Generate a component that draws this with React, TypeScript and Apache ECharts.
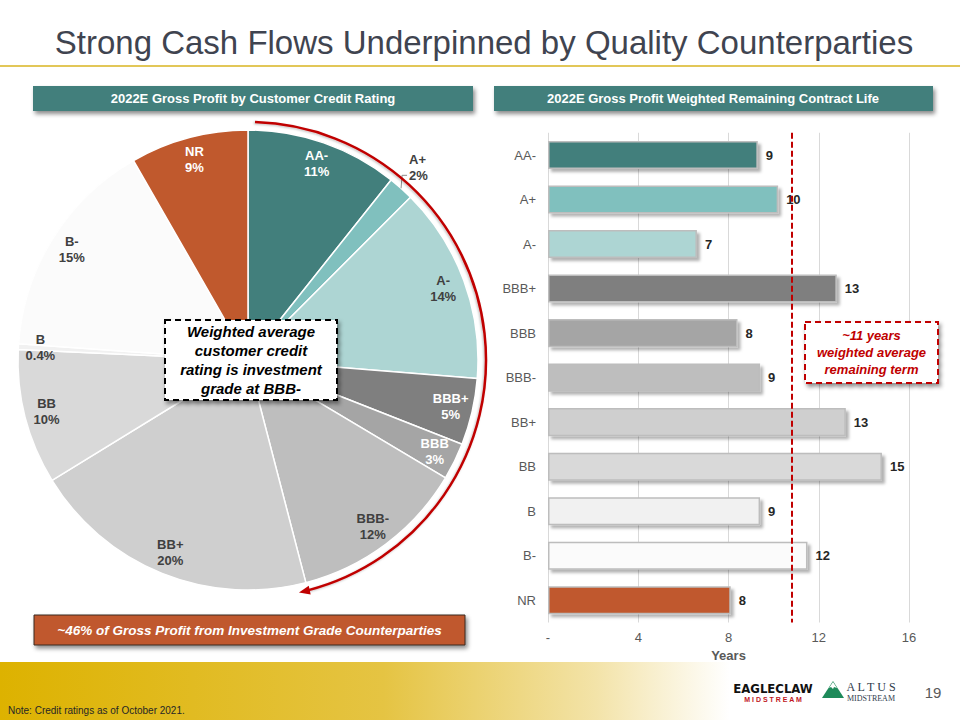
import React, { useEffect, useRef } from "react";
import * as echarts from "echarts";

// ---------- DATA ----------
const pieNames = ["AA-", "A+", "A-", "BBB+", "BBB", "BBB-", "BB+", "BB", "B", "B-", "NR"];
const pieValues = [10.7, 1.8, 13.8, 4.7, 2.6, 12.4, 20.3, 9.5, 0.4, 15.6, 8.3];
const pieLabels = ["11%", "2%", "14%", "5%", "3%", "12%", "20%", "10%", "0.4%", "15%", "9%"];

const barCategories = ["AA-", "A+", "A-", "BBB+", "BBB", "BBB-", "BB+", "BB", "B", "B-", "NR"];
const barValues = [9.3, 10.2, 6.6, 12.8, 8.4, 9.4, 13.2, 14.8, 9.4, 11.5, 8.1];
const barLabels = ["9", "10", "7", "13", "8", "9", "13", "15", "9", "12", "8"];
const xTickLabels = ["-", "4", "8", "12", "16"];
const averageLife = 10.8;

// ---------- STYLES ----------
const ratingColors: Record<string, string> = {
  "AA-": "#427F7C",
  "A+": "#80C0BE",
  "A-": "#ADD5D3",
  "BBB+": "#7F7F7F",
  BBB: "#A5A5A5",
  "BBB-": "#BEBEBE",
  "BB+": "#CFCFCF",
  BB: "#D9D9D9",
  B: "#F1F1F1",
  "B-": "#FBFBFB",
  NR: "#C0592D",
};
const whiteLabel = new Set(["AA-", "NR", "BBB+", "BBB"]);
const FONT = "Arial, 'Liberation Sans', sans-serif";
const TEAL = "#427F7C";
const RED = "#C00000";

const PIE_CX = 248;
const PIE_CY = 360;
const PIE_R = 230;

function buildOption() {
  const pieData = pieNames.map((n, i) => ({
    name: n,
    value: pieValues[i],
    itemStyle: { color: ratingColors[n] },
  }));

  const labelData = pieNames.map((n, i) => {
    const item: any = {
      name: n,
      value: pieValues[i],
      label: {
        color: whiteLabel.has(n) ? "#FFFFFF" : "#404040",
      },
    };
    if (n === "A+") {
      item.label.position = "outside";
      item.labelLine = { show: true, length: 8, length2: 5, lineStyle: { color: "#8C8C8C", width: 1 } };
    }
    return item;
  });

  // red arc with arrow
  const arcR = 238;
  const startA = Math.atan2(123 - PIE_CY, 255 - PIE_CX);
  const tipA = 1.355;
  const tip = [PIE_CX + arcR * Math.cos(tipA), PIE_CY + arcR * Math.sin(tipA)];
  const d = [-Math.sin(tipA), Math.cos(tipA)];
  const nrm = [Math.cos(tipA), Math.sin(tipA)];
  const base = [tip[0] - 11 * d[0], tip[1] - 11 * d[1]];
  const arrowPts = [
    tip,
    [base[0] + 4.5 * nrm[0], base[1] + 4.5 * nrm[1]],
    [base[0] - 4.5 * nrm[0], base[1] - 4.5 * nrm[1]],
  ];

  const shadow = { shadowBlur: 4, shadowOffsetX: 2, shadowOffsetY: 3, shadowColor: "rgba(0,0,0,0.45)" };

  return {
    animation: false,
    backgroundColor: "#FFFFFF",
    grid: { left: 548, right: 51, top: 132.75, bottom: 97.5, containLabel: false },
    xAxis: {
      type: "value",
      min: 0,
      max: 16,
      interval: 4,
      name: "Years",
      nameLocation: "middle",
      nameGap: 26,
      nameTextStyle: { color: "#595959", fontSize: 13, fontWeight: "bold", fontFamily: FONT },
      axisLine: { show: false },
      axisTick: { show: false },
      axisLabel: {
        color: "#595959",
        fontSize: 13,
        fontFamily: FONT,
        margin: 8,
        formatter: (v: number) => xTickLabels[Math.round(v / 4)] ?? String(v),
      },
      splitLine: { show: true, lineStyle: { color: "#D9D9D9", width: 1 } },
    },
    yAxis: {
      type: "category",
      data: barCategories,
      inverse: true,
      axisLine: { show: false },
      axisTick: { show: false },
      axisLabel: { color: "#595959", fontSize: 13, fontFamily: FONT, margin: 12 },
    },
    series: [
      {
        type: "pie",
        center: [PIE_CX, PIE_CY],
        radius: [0, PIE_R],
        startAngle: 90,
        clockwise: true,
        silent: true,
        label: { show: false },
        labelLine: { show: false },
        itemStyle: { borderColor: "#FFFFFF", borderWidth: 1.5 },
        data: pieData,
        z: 2,
      },
      {
        type: "pie",
        center: [PIE_CX, PIE_CY],
        radius: [180, PIE_R],
        startAngle: 90,
        clockwise: true,
        silent: true,
        itemStyle: { color: "rgba(0,0,0,0)", borderWidth: 0 },
        label: {
          show: true,
          position: "inside",
          fontSize: 13,
          fontWeight: "bold",
          fontFamily: FONT,
          lineHeight: 16,
          formatter: (p: any) => `${p.name}\n${pieLabels[p.dataIndex]}`,
        },
        labelLine: { show: false },
        labelLayout: (params: any) => {
          if (params.dataIndex !== 1 || !params.labelLinePoints) return {};
          const p0 = params.labelLinePoints[0];
          const bend = [p0[0] + 1, p0[1] - 13];
          const end = [bend[0] + 5, bend[1]];
          return {
            x: end[0] + 2,
            y: end[1] - 8,
            align: "left",
            verticalAlign: "middle",
            labelLinePoints: [p0, bend, end],
          };
        },
        data: labelData,
        z: 3,
      },
      {
        type: "bar",
        barWidth: "63%",
        data: barValues.map((v, i) => ({
          value: v,
          itemStyle: { color: ratingColors[barCategories[i]] },
        })),
        itemStyle: {
          borderColor: "#BDBDBD",
          borderWidth: 1.5,
          shadowBlur: 3,
          shadowOffsetX: 3,
          shadowOffsetY: 3,
          shadowColor: "rgba(0,0,0,0.3)",
        },
        label: {
          show: true,
          position: "right",
          distance: 8,
          color: "#262626",
          fontSize: 13,
          fontWeight: "bold",
          fontFamily: FONT,
          formatter: (p: any) => barLabels[p.dataIndex],
        },
        markLine: {
          silent: true,
          symbol: "none",
          label: { show: false },
          lineStyle: { color: RED, width: 2, type: [6, 3] },
          data: [{ xAxis: averageLife }],
        },
      },
    ],
    graphic: [
      // footer band
      {
        type: "rect",
        z: -10,
        shape: { x: 0, y: 662, width: 960, height: 58 },
        style: {
          fill: new echarts.graphic.LinearGradient(0, 0, 1, 0, [
            { offset: 0, color: "#DDB200" },
            { offset: 0.4, color: "#E5C443" },
            { offset: 0.62, color: "#F3E3A8" },
            { offset: 0.76, color: "#FFFFFF" },
            { offset: 1, color: "#FFFFFF" },
          ]),
        },
      },
      // title
      {
        type: "text",
        x: 484,
        y: 42,
        style: {
          text: "Strong Cash Flows Underpinned by Quality Counterparties",
          fill: "#3F4450",
          fontSize: 33,
          fontFamily: FONT,
          textAlign: "center",
          textVerticalAlign: "middle",
        },
      },
      {
        type: "line",
        shape: { x1: 0, y1: 66, x2: 960, y2: 66 },
        style: { stroke: "#D8B520", lineWidth: 1.5 },
      },
      // section banners
      {
        type: "rect",
        shape: { x: 33, y: 86, width: 440, height: 25 },
        style: { fill: TEAL, ...shadow },
      },
      {
        type: "text",
        x: 253,
        y: 98.5,
        style: {
          text: "2022E Gross Profit by Customer Credit Rating",
          fill: "#FFFFFF",
          fontSize: 13,
          fontWeight: "bold",
          fontFamily: FONT,
          textAlign: "center",
          textVerticalAlign: "middle",
        },
      },
      {
        type: "rect",
        shape: { x: 494, y: 86, width: 439, height: 25 },
        style: { fill: TEAL, ...shadow },
      },
      {
        type: "text",
        x: 713,
        y: 98.5,
        style: {
          text: "2022E Gross Profit Weighted Remaining Contract Life",
          fill: "#FFFFFF",
          fontSize: 13,
          fontWeight: "bold",
          fontFamily: FONT,
          textAlign: "center",
          textVerticalAlign: "middle",
        },
      },
      // red arc + arrow
      {
        type: "arc",
        z: 50,
        shape: { cx: PIE_CX, cy: PIE_CY, r: arcR, startAngle: startA, endAngle: tipA - 9 / arcR, clockwise: true },
        style: { stroke: RED, lineWidth: 2.5, fill: null, shadowBlur: 2, shadowOffsetX: -1, shadowOffsetY: 1, shadowColor: "rgba(0,0,0,0.25)" },
      },
      {
        type: "polygon",
        z: 50,
        shape: { points: arrowPts },
        style: { fill: RED },
      },
      // weighted average box
      {
        type: "rect",
        z: 60,
        shape: { x: 165, y: 320, width: 172, height: 80 },
        style: { fill: "#FFFFFF", stroke: "#000000", lineWidth: 2, lineDash: [6, 4], ...shadow },
      },
      {
        type: "text",
        z: 61,
        x: 251,
        y: 360,
        style: {
          text: "Weighted average\ncustomer credit\nrating is investment\ngrade at BBB-",
          fill: "#000000",
          fontSize: 15,
          fontWeight: "bold",
          fontStyle: "italic",
          fontFamily: FONT,
          lineHeight: 19,
          textAlign: "center",
          textVerticalAlign: "middle",
        },
      },
      // orange banner
      {
        type: "rect",
        z: 60,
        shape: { x: 34, y: 615, width: 431, height: 30 },
        style: { fill: "#C0592D", stroke: "#3A2A20", lineWidth: 1, ...shadow },
      },
      {
        type: "text",
        z: 61,
        x: 249.5,
        y: 630,
        style: {
          text: "~46% of Gross Profit from Investment Grade Counterparties",
          fill: "#FFFFFF",
          fontSize: 13.5,
          fontWeight: "bold",
          fontStyle: "italic",
          fontFamily: FONT,
          textAlign: "center",
          textVerticalAlign: "middle",
        },
      },
      // red dashed annotation box
      {
        type: "rect",
        z: 60,
        shape: { x: 805, y: 322, width: 133, height: 61 },
        style: { fill: "#FFFFFF", stroke: RED, lineWidth: 2, lineDash: [6, 4], ...shadow },
      },
      {
        type: "text",
        z: 61,
        x: 871.5,
        y: 352.5,
        style: {
          text: "~11 years\nweighted average\nremaining term",
          fill: RED,
          fontSize: 13,
          fontWeight: "bold",
          fontStyle: "italic",
          fontFamily: FONT,
          lineHeight: 17,
          textAlign: "center",
          textVerticalAlign: "middle",
        },
      },
      // footer texts
      {
        type: "text",
        x: 8,
        y: 710,
        style: {
          text: "Note: Credit ratings as of October 2021.",
          fill: "#262626",
          fontSize: 10,
          fontFamily: FONT,
          textAlign: "left",
          textVerticalAlign: "middle",
        },
      },
      {
        type: "text",
        x: 933,
        y: 692,
        style: {
          text: "19",
          fill: "#595959",
          fontSize: 15,
          fontFamily: FONT,
          textAlign: "center",
          textVerticalAlign: "middle",
        },
      },
      // logos
      {
        type: "text",
        x: 773,
        y: 688,
        style: {
          text: "EAGLECLAW",
          fill: "#111111",
          fontSize: 13,
          fontWeight: "bold",
          fontFamily: "'Liberation Sans Narrow', 'Arial Narrow', 'DejaVu Sans Condensed', sans-serif",
          textAlign: "center",
          textVerticalAlign: "middle",
        },
      },
      {
        type: "text",
        x: 773,
        y: 699.5,
        style: {
          text: "M I D S T R E A M",
          fill: "#C0171E",
          fontSize: 7,
          fontWeight: "bold",
          fontFamily: FONT,
          textAlign: "center",
          textVerticalAlign: "middle",
        },
      },
      {
        type: "polygon",
        shape: { points: [[822, 698], [833, 681], [844, 698]] },
        style: { fill: "#1E8A5A" },
      },
      {
        type: "polygon",
        shape: { points: [[829, 688], [833, 682], [837, 688], [834, 687], [833, 689], [831, 687]] },
        style: { fill: "#FFFFFF" },
      },
      {
        type: "text",
        x: 871,
        y: 687,
        style: {
          text: "A L T U S",
          fill: "#2F3B4B",
          fontSize: 12,
          fontFamily: "'Liberation Serif', 'DejaVu Serif', serif",
          textAlign: "center",
          textVerticalAlign: "middle",
        },
      },
      {
        type: "text",
        x: 871,
        y: 698,
        style: {
          text: "MIDSTREAM",
          fill: "#2F3B4B",
          fontSize: 8,
          fontFamily: "'Liberation Serif', 'DejaVu Serif', serif",
          textAlign: "center",
          textVerticalAlign: "middle",
        },
      },
    ],
  };
}

export default function App() {
  const ref = useRef<HTMLDivElement>(null);
  useEffect(() => {
    if (!ref.current) return;
    const chart = echarts.init(ref.current, null, { renderer: "svg" });
    chart.setOption(buildOption() as any);
    return () => chart.dispose();
  }, []);
  return (
    <div
      ref={ref}
      style={{ position: "fixed", left: 0, top: 0, width: 960, height: 720, background: "#FFFFFF" }}
    />
  );
}
